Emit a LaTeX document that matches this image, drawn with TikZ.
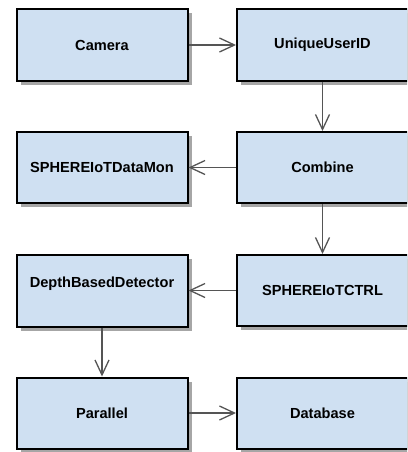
\documentclass[tikz,border=0pt]{standalone}
\usepackage{fontspec}
\setmainfont{Liberation Sans}
\usetikzlibrary{arrows.meta,shadows}
\definecolor{boxfill}{HTML}{CFE0F2}
\definecolor{linegrey}{HTML}{555555}
\tikzset{
  lbl/.style={font=\bfseries\fontsize{14.6}{17}\selectfont, inner sep=0pt},
  blk/.style={draw=black, line width=2pt, fill=boxfill, minimum width=171pt, minimum height=71pt,
    inner sep=0pt, lbl,
    drop shadow={shadow xshift=4pt, shadow yshift=-4pt, fill=black!35, opacity=1}},
  conn/.style={draw=linegrey, line width=1.6pt, -{Straight Barb[length=15pt,width=14pt,line width=1.3pt]}}
}
\begin{document}
\begin{tikzpicture}[x=1pt,y=-1pt]
\useasboundingbox (0,0) rectangle (407,452);
\clip (0,0) rectangle (407,452);
\node[blk] (cam) at (102,45) {Camera};
\node[blk] (uid) at (322.5,45) {UniqueUserID};
\node[blk] (mon) at (102,167.5) {SPHEREIoTDataMon};
\node[blk] (comb) at (322.5,167.5) {Combine};
\node[blk, minimum height=72pt] (dbd) at (102,290.5) {};
\node[lbl, anchor=base] (dbdtext) at (102,287.5) {DepthBasedDetector};
\node[blk] (ctrl) at (322.5,290.5) {SPHEREIoTCTRL};
\node[blk] (par) at (102,413) {Parallel};
\node[blk] (db) at (322.5,413) {Database};
\draw[conn] (cam) -- (uid);
\draw[conn] (uid) -- (comb);
\draw[conn] (comb) -- (mon);
\draw[conn] (comb) -- (ctrl);
\draw[conn] (ctrl) -- (dbd);
\draw[conn] (dbd) -- (par);
\draw[conn] (par) -- (db);
\end{tikzpicture}
\end{document}
